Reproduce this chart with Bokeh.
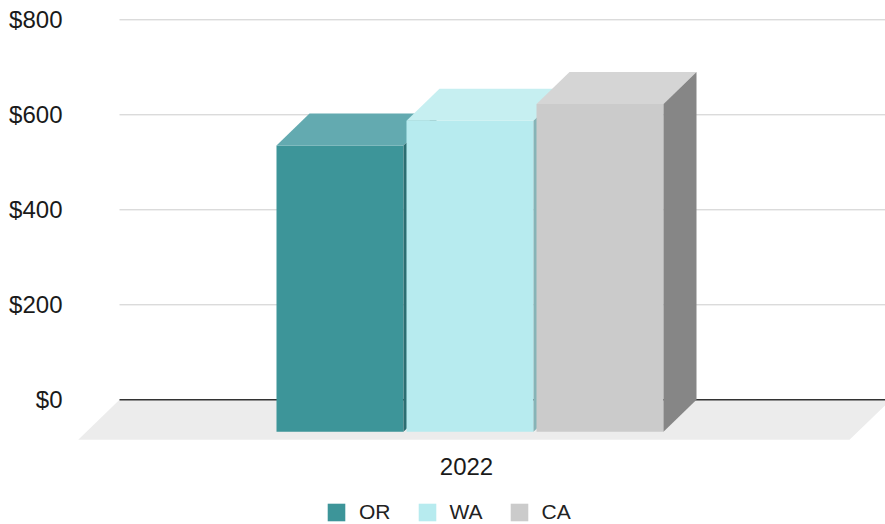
from bokeh.plotting import figure
from bokeh.models import (Range1d, LinearAxis, FixedTicker, NumeralTickFormatter,
                          Legend, LegendItem)
from bokeh.embed import file_html
from bokeh.resources import INLINE

# ---- data ----
category = "2022"
series = ["OR", "WA", "CA"]
values = [603, 655, 690]
y_ticks = [0, 200, 400, 600, 800]

front_colors = ["#3d9599", "#b7ebef", "#cbcbcb"]
top_colors = ["#63aab0", "#c6eff1", "#d5d5d5"]
side_colors = ["#2c6e72", "#86b4b7", "#868686"]

# ---- layout constants (pixels / scale) ----
W, H = 885, 524
LEFT = 75
PX_PER_USD = 0.475
ZERO_PX = 399.3
DEPTH_X = 33.0                 # px
DEPTH_Y = 32.0 / PX_PER_USD    # in $ units
BAR_W = 127.0
BAR_PITCH = 130.0
GROUP_CENTER = 469.5
FLOOR_FRONT = -0.25            # depth fraction of floor front edge
FLOOR_LEFT_BACK = 119.0
FLOOR_RIGHT_FRONT = 849.0

y_top = ZERO_PX / PX_PER_USD
y_bot = -(H - ZERO_PX) / PX_PER_USD

p = figure(width=W, height=H, output_backend="svg", toolbar_location=None,
           x_axis_type=None, y_axis_type=None,
           x_range=Range1d(LEFT, W), y_range=Range1d(y_bot, y_top),
           min_border_left=LEFT, min_border_right=0, min_border_top=0,
           min_border_bottom=0, outline_line_color=None)
p.xgrid.visible = False
p.ygrid.visible = False
p.background_fill_color = "white"
p.border_fill_color = "white"

# y axis (labels only)
yaxis = LinearAxis(ticker=FixedTicker(ticks=y_ticks),
                   formatter=NumeralTickFormatter(format="$0"))
yaxis.axis_line_color = None
yaxis.major_tick_line_color = None
yaxis.minor_tick_line_color = None
yaxis.major_label_standoff = 7
yaxis.major_label_text_font = "Liberation Sans"
yaxis.major_label_text_font_size = "24px"
yaxis.major_label_text_color = "#1a1a1a"
p.add_layout(yaxis, "left")

# floor (parallelogram from front edge to back plane)
fdx = FLOOR_FRONT * DEPTH_X
fdy = FLOOR_FRONT * DEPTH_Y
floor_front_left = FLOOR_LEFT_BACK - DEPTH_X + fdx
p.patch(x=[floor_front_left, FLOOR_RIGHT_FRONT,
           FLOOR_RIGHT_FRONT - fdx + DEPTH_X, FLOOR_LEFT_BACK],
        y=[fdy - DEPTH_Y, fdy - DEPTH_Y, 0, 0],
        fill_color="#ececec", line_color=None)

# gridlines on back plane
grid_vals = [t for t in y_ticks if t != 0]
p.segment(x0=[FLOOR_LEFT_BACK] * len(grid_vals), y0=grid_vals,
          x1=[W] * len(grid_vals), y1=grid_vals,
          line_color="#cccccc", line_width=1)
p.segment(x0=[FLOOR_LEFT_BACK], y0=[0], x1=[W], y1=[0],
          line_color="#333333", line_width=1.5)

# bars
n = len(series)
legend_items = []
for i, (name, v) in enumerate(zip(series, values)):
    cx = GROUP_CENTER + (i - (n - 1) / 2) * BAR_PITCH
    x0, x1 = cx - BAR_W / 2, cx + BAR_W / 2
    yb, yt = -DEPTH_Y, v - DEPTH_Y
    r = p.quad(left=[x0], right=[x1], bottom=[yb], top=[yt],
               fill_color=front_colors[i], line_color=None)
    p.patch(x=[x0, x1, x1 + DEPTH_X, x0 + DEPTH_X],
            y=[yt, yt, v, v], fill_color=top_colors[i], line_color=None)
    p.patch(x=[x1, x1 + DEPTH_X, x1 + DEPTH_X, x1],
            y=[yb, 0, v, yt], fill_color=side_colors[i], line_color=None)
    legend_items.append(LegendItem(label=name, renderers=[r]))

# category label
label_y = (ZERO_PX - 466) / PX_PER_USD
p.text(x=[GROUP_CENTER - 3.5], y=[label_y], text=[category],
       text_align="center", text_baseline="middle",
       text_font_size="24px", text_color="#1a1a1a",
       text_font={"value": "Liberation Sans"})

legend = Legend(items=legend_items, orientation="horizontal",
                location=(325 - LEFT, 0))
legend.glyph_width = 22
legend.glyph_height = 22
legend.label_standoff = 12
legend.spacing = 25
legend.padding = 0
legend.margin = 0
legend.border_line_color = None
legend.background_fill_alpha = 0
legend.label_text_font = "Liberation Sans"
legend.label_text_font_size = "21px"
legend.label_text_color = "#222222"
p.add_layout(legend, "center")

open("out.html", "w").write(file_html(p, INLINE))
